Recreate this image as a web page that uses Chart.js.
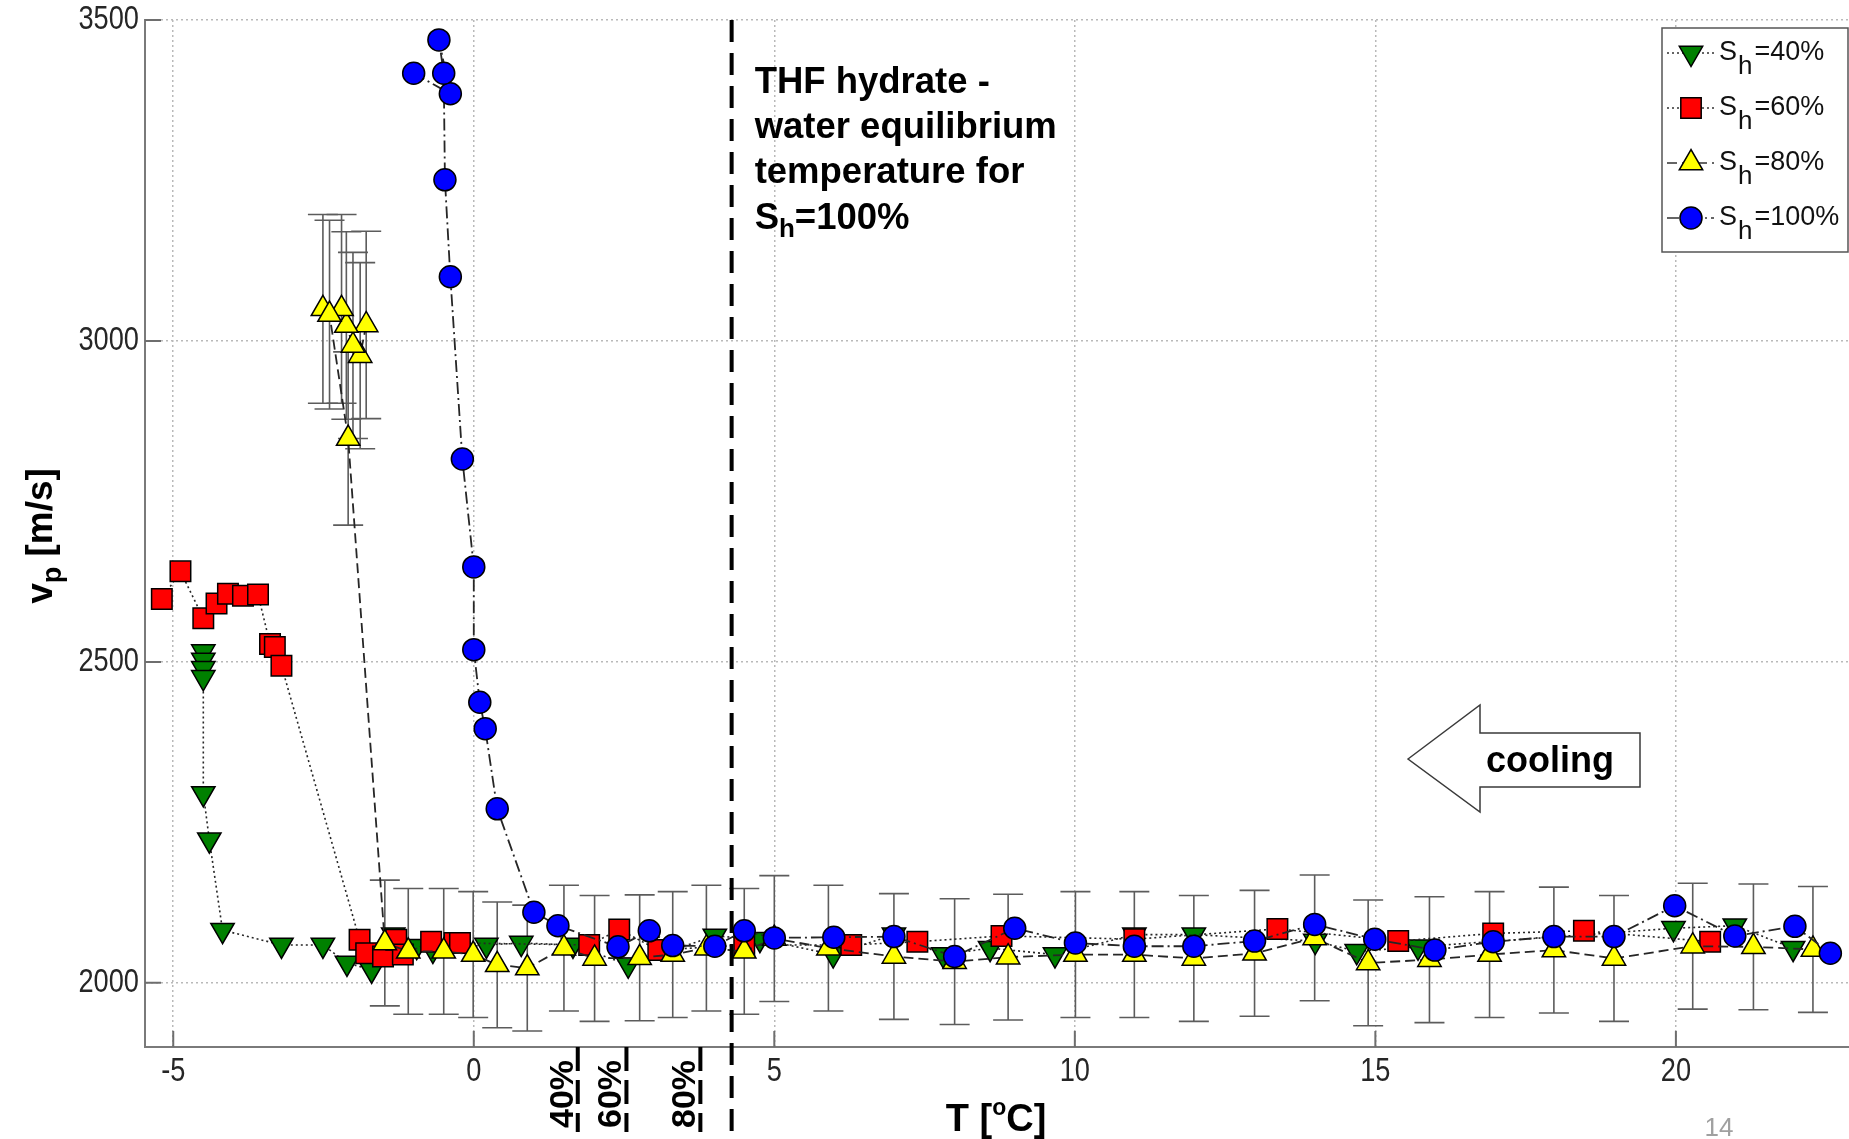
<!DOCTYPE html>
<html><head><meta charset="utf-8">
<script src="https://cdn.jsdelivr.net/npm/chart.js@4.4.0/dist/chart.umd.min.js"></script>
<style>html,body{margin:0;padding:0;background:#fff;overflow:hidden}#wrap{width:1849px;height:1139px;position:relative}</style>
</head><body><div id="wrap"><canvas id="c" width="1849" height="1139"></canvas></div>
<script>
// ---------- data ----------
const xTickValues = [-5, 0, 5, 10, 15, 20];
const yTickValues = [2000, 2500, 3000, 3500];

const seriesLabels = ['40%', '60%', '80%', '100%'];

const sh40T = [-4.50,-4.50,-4.50,-4.50,-4.50,-4.40,-4.18,-3.20,-2.51,-2.11,-1.70,-1.34,-0.95,-0.68,0.21,0.79,1.65,2.57,4.01,4.76,5.98,6.99,7.81,8.59,9.67,10.99,11.98,14.00,14.69,15.71,19.96,20.98,21.95];
const sh40V = [2516,2503,2490,2476,2295,2223,2082,2059,2059,2031,2020,2075,2057,2051,2059,2062,2059,2028,2073,2068,2044,2075,2044,2054,2044,2075,2075,2065,2049,2056,2085,2089,2054];

const sh60T = [-5.19,-4.88,-4.50,-4.28,-4.09,-3.84,-3.59,-3.39,-3.31,-3.20,-1.90,-1.79,-1.51,-1.29,-1.18,-0.71,-0.32,-0.23,1.92,2.42,3.07,4.50,6.28,7.38,8.78,10.99,13.37,15.38,16.96,18.47,20.57];
const sh60V = [2598,2641,2568,2591,2606,2603,2605,2528,2523,2494,2067,2046,2041,2067,2044,2064,2062,2062,2059,2083,2051,2059,2059,2064,2073,2068,2084,2065,2077,2081,2064];

const sh80T = [-1.79,-1.89,-2.01,-2.12,-2.20,-2.51,-2.40,-2.09,-1.48,-1.09,-0.50,-0.01,0.39,0.89,1.50,2.01,2.76,3.31,3.87,4.50,5.00,5.90,6.99,8.00,8.89,10.01,10.99,11.98,12.99,13.99,14.88,15.90,16.90,17.97,18.97,20.28,21.29,22.28];
const sh80V = [3025,2977,2993,3024,3050,3050,3041,2848,2062,2049,2049,2044,2028,2023,2054,2038,2039,2044,2054,2049,2069,2054,2041,2033,2040,2044,2044,2038,2046,2070,2031,2036,2044,2051,2038,2057,2056,2052];
const sh80Err = [146,145,145,146,147,147,147,135,98,98,98,98,98,98,98,98,98,98,98,98,98,98,98,98,98,98,98,98,98,98,98,98,98,98,98,98,98,98];

const sh100T = [-1.00,-0.39,-0.58,-0.50,-0.48,-0.39,-0.19,0.00,0.00,0.10,0.19,0.39,1.00,1.40,2.40,2.92,3.31,4.01,4.50,5.00,5.99,6.99,8.00,9.00,10.01,10.99,11.98,12.99,13.99,14.99,15.99,16.96,17.97,18.97,19.98,20.98,21.98,22.57];
const sh100V = [3417,3385,3469,3417,3251,3100,2816,2648,2519,2437,2396,2271,2110,2089,2056,2081,2058,2057,2081,2070,2071,2072,2041,2085,2062,2057,2057,2065,2091,2068,2051,2064,2072,2072,2120,2073,2088,2046];

// equilibrium temperatures marked on the T axis
const eqT100 = 4.29;
const eqLabels = ['40%', '60%', '80%'];
const eqT = [1.73, 2.54, 3.77];

const annotLines = ['THF hydrate -', 'water equilibrium', 'temperature for'];
// ---------- styles ----------
const SANS = "'Liberation Sans', Arial, sans-serif";
const dashes = {d40: [2, 3], d60: [2, 3], d80: [10, 5], d100: [12, 4, 2, 4]};
const fills = ['#008000', '#ff0000', '#ffff00', '#0000ff'];
const kinds = ['down', 'rect', 'up', 'circle'];
const dashList = [dashes.d40, dashes.d60, dashes.d80, dashes.d100];

function pts(T, V) { return T.map((t, i) => ({x: t, y: V[i]})); }

function marker(ctx, kind, x, y, fill) {
  ctx.save();
  ctx.setLineDash([]);
  ctx.fillStyle = fill; ctx.strokeStyle = '#000'; ctx.lineWidth = 1.5;
  ctx.beginPath();
  if (kind === 'down') { const r = 13.5; ctx.moveTo(x, y + r); ctx.lineTo(x - r * 0.866, y - r / 2); ctx.lineTo(x + r * 0.866, y - r / 2); ctx.closePath(); }
  else if (kind === 'up') { const r = 13.5; ctx.moveTo(x, y - r); ctx.lineTo(x - r * 0.866, y + r / 2); ctx.lineTo(x + r * 0.866, y + r / 2); ctx.closePath(); }
  else if (kind === 'rect') { const s = 10.2; ctx.rect(x - s, y - s, 2 * s, 2 * s); }
  else { ctx.arc(x, y, 11, 0, Math.PI * 2); }
  ctx.fill(); ctx.stroke();
  ctx.restore();
}

// narrow-looking tick label: regular face compressed horizontally
function narrowText(ctx, s, x, y, align) {
  ctx.save();
  ctx.translate(x, y); ctx.scale(0.8, 1);
  ctx.textAlign = align; ctx.textBaseline = 'middle';
  ctx.fillText(s, 0, 0);
  ctx.restore();
}

const annotPlugin = {
  id: 'annot',
  beforeDatasetsDraw(chart) {
    const {ctx, scales: {x, y}} = chart;
    ctx.save();
    ctx.strokeStyle = '#5c5c5c'; ctx.lineWidth = 1.6; ctx.setLineDash([]);
    sh80T.forEach((t, i) => {
      const px = x.getPixelForValue(t);
      const top = y.getPixelForValue(sh80V[i] + sh80Err[i]);
      const bot = y.getPixelForValue(sh80V[i] - sh80Err[i]);
      ctx.beginPath();
      ctx.moveTo(px, top); ctx.lineTo(px, bot);
      ctx.moveTo(px - 15, top); ctx.lineTo(px + 15, top);
      ctx.moveTo(px - 15, bot); ctx.lineTo(px + 15, bot);
      ctx.stroke();
    });
    ctx.restore();
  },
  afterDraw(chart) {
    const {ctx, scales: {x, y}, chartArea: ca} = chart;
    ctx.save();
    // inward tick marks
    ctx.strokeStyle = '#6e6e6e'; ctx.lineWidth = 2; ctx.setLineDash([]);
    ctx.beginPath();
    xTickValues.forEach(v => { const p = x.getPixelForValue(v); ctx.moveTo(p, ca.bottom); ctx.lineTo(p, ca.bottom - 16); });
    yTickValues.forEach(v => { const p = y.getPixelForValue(v); ctx.moveTo(ca.left, p); ctx.lineTo(ca.left + 16, p); });
    ctx.stroke();

    // tick labels
    ctx.fillStyle = '#262626'; ctx.font = '34px ' + SANS;
    xTickValues.forEach(v => narrowText(ctx, String(v), x.getPixelForValue(v), ca.bottom + 25, 'center'));
    yTickValues.forEach(v => narrowText(ctx, String(v), ca.left - 6, y.getPixelForValue(v), 'right'));

    // main equilibrium dashed line
    const bottomY = 1132;
    ctx.strokeStyle = '#000'; ctx.lineWidth = 4; ctx.setLineDash([22, 11]);
    const pe = x.getPixelForValue(eqT100);
    ctx.beginPath(); ctx.moveTo(pe, ca.top); ctx.lineTo(pe, bottomY); ctx.stroke();
    // small dashed markers below the axis with labels
    ctx.setLineDash([24, 9]);
    ctx.font = 'bold 34px ' + SANS; ctx.fillStyle = '#000';
    eqT.forEach((t, i) => {
      const p = x.getPixelForValue(t);
      ctx.beginPath(); ctx.moveTo(p, ca.bottom); ctx.lineTo(p, bottomY); ctx.stroke();
      ctx.save(); ctx.translate(p - 5, 1094); ctx.rotate(-Math.PI / 2);
      ctx.textAlign = 'center'; ctx.textBaseline = 'alphabetic';
      ctx.fillText(eqLabels[i], 0, 0); ctx.restore();
    });
    ctx.setLineDash([]);

    // annotation text
    ctx.fillStyle = '#000'; ctx.textAlign = 'left'; ctx.textBaseline = 'alphabetic';
    ctx.font = 'bold 36.5px ' + SANS;
    const tx = pe + 23;
    const base = [93, 138, 183, 229];
    annotLines.forEach((s, i) => ctx.fillText(s, tx, base[i]));
    let cx = tx;
    ctx.fillText('S', cx, base[3]); cx += ctx.measureText('S').width;
    ctx.font = 'bold 26px ' + SANS; ctx.fillText('h', cx, base[3] + 8); cx += ctx.measureText('h').width;
    ctx.font = 'bold 36.5px ' + SANS; ctx.fillText('=100%', cx, base[3]);

    // cooling arrow
    ctx.beginPath();
    ctx.moveTo(1408, 759); ctx.lineTo(1480, 705); ctx.lineTo(1480, 733); ctx.lineTo(1640, 733);
    ctx.lineTo(1640, 787); ctx.lineTo(1480, 787); ctx.lineTo(1480, 812); ctx.closePath();
    ctx.fillStyle = '#fff'; ctx.fill(); ctx.strokeStyle = '#3a3a3a'; ctx.lineWidth = 1.5; ctx.stroke();
    ctx.fillStyle = '#000'; ctx.font = 'bold 36px ' + SANS; ctx.textAlign = 'center'; ctx.textBaseline = 'middle';
    ctx.fillText('cooling', 1550, 762);

    // axis titles
    ctx.textAlign = 'left'; ctx.textBaseline = 'alphabetic';
    ctx.save(); ctx.translate(52, 536); ctx.rotate(-Math.PI / 2);
    ctx.font = 'bold 37px ' + SANS; const wv = ctx.measureText('v').width; const wr = ctx.measureText(' [m/s]').width;
    ctx.font = 'bold 27px ' + SANS; const wp = ctx.measureText('p').width;
    let sx = -(wv + wp + wr) / 2;
    ctx.font = 'bold 37px ' + SANS; ctx.fillText('v', sx, 0); sx += wv;
    ctx.font = 'bold 27px ' + SANS; ctx.fillText('p', sx, 9); sx += wp;
    ctx.font = 'bold 37px ' + SANS; ctx.fillText(' [m/s]', sx, 0);
    ctx.restore();

    ctx.font = 'bold 38px ' + SANS; const w1 = ctx.measureText('T [').width; const w3 = ctx.measureText('C]').width;
    ctx.font = 'bold 23px ' + SANS; const w2 = ctx.measureText('o').width;
    let xx = 996 - (w1 + w2 + w3) / 2;
    ctx.font = 'bold 38px ' + SANS; ctx.fillText('T [', xx, 1131); xx += w1;
    ctx.font = 'bold 23px ' + SANS; ctx.fillText('o', xx, 1115); xx += w2;
    ctx.font = 'bold 38px ' + SANS; ctx.fillText('C]', xx, 1131);

    // legend
    ctx.fillStyle = '#fff'; ctx.fillRect(1662, 28, 186, 224);
    ctx.strokeStyle = '#555'; ctx.lineWidth = 1.5; ctx.strokeRect(1662, 28, 186, 224);
    const rows = [53, 108, 163, 218];
    rows.forEach((ry, i) => {
      ctx.strokeStyle = '#333'; ctx.lineWidth = 1.5; ctx.setLineDash(dashList[i]);
      ctx.beginPath(); ctx.moveTo(1667, ry); ctx.lineTo(1714, ry); ctx.stroke(); ctx.setLineDash([]);
      marker(ctx, kinds[i], 1691, ry, fills[i]);
      ctx.fillStyle = '#111'; let lx = 1719;
      ctx.font = '27px ' + SANS; ctx.fillText('S', lx, ry + 7); lx += ctx.measureText('S').width + 1;
      ctx.font = '26px ' + SANS; ctx.fillText('h', lx, ry + 21); lx += ctx.measureText('h').width + 2;
      ctx.font = '27px ' + SANS; ctx.fillText('=' + seriesLabels[i], lx, ry + 7);
    });

    // page number
    ctx.fillStyle = '#a0a0a0'; ctx.font = '26px ' + SANS; ctx.textAlign = 'center';
    ctx.fillText('14', 1719, 1136);
    ctx.restore();
  }
};

const common = {showLine: true, fill: false, tension: 0, borderColor: '#262626', pointBorderColor: '#000', pointBorderWidth: 1.5};

function fitX(s) { s.height = 92; s.paddingLeft = 0; s.paddingRight = 0; s.paddingTop = 0; s.paddingBottom = 0; }
function fitY(s) { s.width = 145; s.paddingLeft = 0; s.paddingRight = 0; s.paddingTop = 0; s.paddingBottom = 0; }

new Chart(document.getElementById('c'), {
  type: 'scatter',
  data: {
    datasets: [
      Object.assign({}, common, {label: 'Sh=40%', data: pts(sh40T, sh40V), order: 4, borderWidth: 1.6, borderDash: dashes.d40,
        pointStyle: 'triangle', pointRotation: 180, pointRadius: 13.5, pointBackgroundColor: fills[0]}),
      Object.assign({}, common, {label: 'Sh=60%', data: pts(sh60T, sh60V), order: 3, borderWidth: 1.6, borderDash: dashes.d60,
        pointStyle: 'rect', pointRadius: 14.5, pointBackgroundColor: fills[1]}),
      Object.assign({}, common, {label: 'Sh=80%', data: pts(sh80T, sh80V), order: 2, borderWidth: 1.8, borderDash: dashes.d80,
        pointStyle: 'triangle', pointRadius: 13.5, pointBackgroundColor: fills[2]}),
      Object.assign({}, common, {label: 'Sh=100%', data: pts(sh100T, sh100V), order: 1, borderWidth: 1.8, borderDash: dashes.d100,
        pointStyle: 'circle', pointRadius: 11, pointBackgroundColor: fills[3]})
    ]
  },
  options: {
    responsive: false, animation: false, devicePixelRatio: 1, events: [],
    layout: {autoPadding: false, padding: {top: 20, left: 0, right: 0, bottom: 0}},
    plugins: {legend: {display: false}, tooltip: {enabled: false}},
    scales: {
      x: {
        type: 'linear', position: 'bottom', min: -5.47, max: 22.88,
        afterFit: fitX,
        afterBuildTicks: s => { s.ticks = xTickValues.map(v => ({value: v})); },
        ticks: {display: false},
        grid: {color: '#b9b9b9', lineWidth: 1.5, drawTicks: false},
        border: {display: true, color: '#7a7a7a', width: 2, dash: [2, 3]},
        title: {display: false}
      },
      y: {
        type: 'linear', position: 'left', min: 1900, max: 3500,
        afterFit: fitY,
        afterBuildTicks: s => { s.ticks = yTickValues.map(v => ({value: v})); },
        ticks: {display: false},
        grid: {color: '#b9b9b9', lineWidth: 1.5, drawTicks: false},
        border: {display: true, color: '#7a7a7a', width: 2, dash: [2, 3]},
        title: {display: false}
      }
    }
  },
  plugins: [annotPlugin]
});
</script></body></html>
